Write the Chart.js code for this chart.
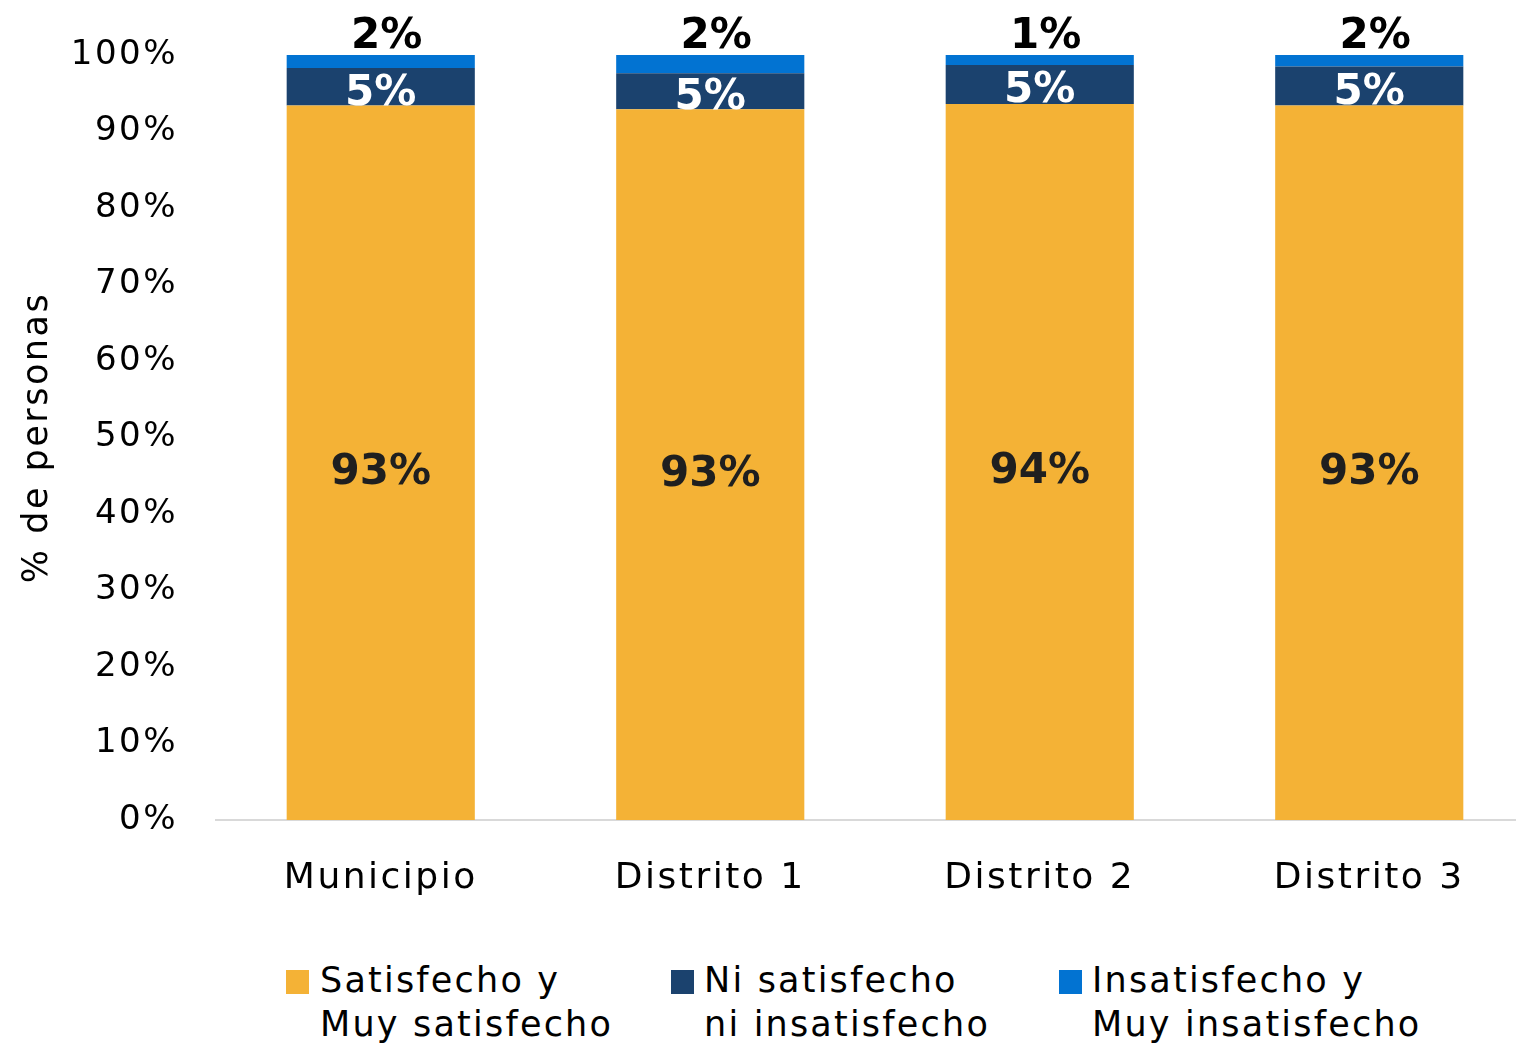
<!DOCTYPE html>
<html><head><meta charset="utf-8">
<script src="https://cdn.jsdelivr.net/npm/chart.js@4"></script>
<style>
html,body{margin:0;padding:0;background:#fff;overflow:hidden;width:1516px;height:1044px;}
#wrap{position:absolute;left:0;top:0;width:1534px;height:930px;}
.leg{position:absolute;top:958px;font-family:'DejaVu Sans';font-size:35px;line-height:44px;letter-spacing:2.2px;color:#000;white-space:nowrap}
.box{position:absolute;top:970px;width:23px;height:24px}
</style></head><body>
<div id="wrap"><canvas id="c"></canvas></div>
<div id="legend"></div>
<script>
const categories = ['Municipio', 'Distrito 1', 'Distrito 2', 'Distrito 3'];
const satisfecho = [93.4, 92.9, 93.6, 93.4];
const neutral = [4.9, 4.7, 5.1, 5.1];
const insatisfecho = [1.7, 2.4, 1.3, 1.5];
const seriesNames = [['Satisfecho y', 'Muy satisfecho'], ['Ni satisfecho', 'ni insatisfecho'], ['Insatisfecho y', 'Muy insatisfecho']];
const yTickValues = [0, 10, 20, 30, 40, 50, 60, 70, 80, 90, 100];
const yTitle = '% de personas';

const colors = ['#F4B236', '#1B426E', '#0273D2'];
const FONT = 'DejaVu Sans';

// HTML legend
const legPos = [[286, 320], [671, 704], [1059, 1092]];
const legend = document.getElementById('legend');
seriesNames.forEach((lines, i) => {
  const b = document.createElement('div');
  b.className = 'box'; b.style.left = legPos[i][0] + 'px'; b.style.background = colors[i];
  legend.appendChild(b);
  const t = document.createElement('div');
  t.className = 'leg'; t.style.left = legPos[i][1] + 'px';
  t.innerHTML = lines.join('<br>');
  legend.appendChild(t);
});

const spacingPlugin = {
  id: 'spacing',
  beforeLayout(chart) { chart.ctx.letterSpacing = '2.5px'; },
  beforeDraw(chart) { chart.ctx.letterSpacing = '2.5px'; }
};

const labelPlugin = {
  id: 'labels',
  afterDatasetsDraw(chart) {
    const ctx = chart.ctx;
    ctx.save();
    ctx.letterSpacing = '0px';
    ctx.textAlign = 'center';
    ctx.font = 'bold 42px "' + FONT + '"';
    chart.data.datasets.forEach((ds, i) => {
      const meta = chart.getDatasetMeta(i);
      meta.data.forEach((bar, j) => {
        const txt = Math.round(ds.data[j]) + '%';
        if (i === 2) {
          ctx.fillStyle = '#000';
          ctx.textBaseline = 'alphabetic';
          ctx.fillText(txt, bar.x + 6, bar.y - 7);
        } else {
          ctx.fillStyle = i === 0 ? '#1F1F1F' : '#FFFFFF';
          ctx.textBaseline = 'middle';
          ctx.fillText(txt, bar.x, (bar.y + bar.base) / 2 + (i === 0 ? 10 : 7));
        }
      });
    });
    ctx.restore();
  }
};

new Chart(document.getElementById('c'), {
  type: 'bar',
  data: {
    labels: categories,
    datasets: [
      { label: seriesNames[0].join(' '), data: satisfecho, backgroundColor: colors[0] },
      { label: seriesNames[1].join(' '), data: neutral, backgroundColor: colors[1] },
      { label: seriesNames[2].join(' '), data: insatisfecho, backgroundColor: colors[2] }
    ]
  },
  options: {
    responsive: true,
    maintainAspectRatio: false,
    animation: false,
    layout: { padding: { top: 55, left: 0, right: 0, bottom: 0 } },
    datasets: { bar: { barPercentage: 0.571, categoryPercentage: 1 } },
    plugins: { legend: { display: false }, tooltip: { enabled: false } },
    scales: {
      x: {
        stacked: true,
        grid: { display: true, drawOnChartArea: false, drawTicks: false, color: 'rgba(0,0,0,0)' },
        border: { display: true, color: '#D9D9D9', width: 2 },
        ticks: { color: '#000', font: { family: FONT, size: 36 }, padding: 37, maxRotation: 0 },
        afterFit: s => { s.height = 110; }
      },
      y: {
        stacked: true,
        min: 0, max: 100,
        afterBuildTicks: s => { s.ticks = yTickValues.map(v => ({ value: v })); },
        grid: { display: false },
        border: { display: false },
        ticks: { color: '#000', font: { family: FONT, size: 34 }, padding: 30, callback: v => v + '%' },
        title: { display: true, text: yTitle, color: '#000', font: { family: FONT, size: 35 }, padding: { top: 17, bottom: 0 } },
        afterFit: s => { s.width = 216; }
      }
    }
  },
  plugins: [spacingPlugin, labelPlugin]
});
</script>
</body></html>
